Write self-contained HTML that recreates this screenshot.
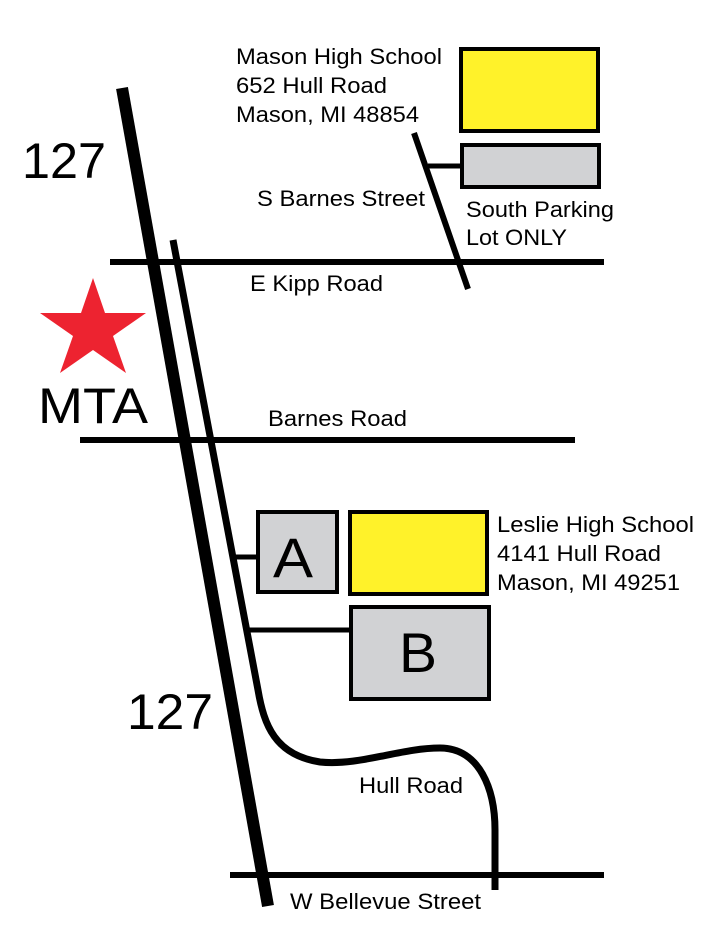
<!DOCTYPE html>
<html><head><meta charset="utf-8"><style>html,body{margin:0;padding:0;background:#fff}svg{display:block}text{font-family:"Liberation Sans",Arial,sans-serif;fill:#000}</style></head>
<body>
<svg width="724" height="940" viewBox="0 0 724 940" xmlns="http://www.w3.org/2000/svg">
<g stroke="#000" fill="none" stroke-linecap="butt">
<line x1="110" y1="262" x2="604" y2="262" stroke-width="6"/>
<line x1="80" y1="440" x2="575" y2="440" stroke-width="6"/>
<line x1="230" y1="875" x2="604" y2="875" stroke-width="6"/>
<line x1="122" y1="88" x2="268" y2="906" stroke-width="12"/>
<path d="M173,240 L258,690 C264,725 275,755 320,762 C360,766 400,748 440,748 C480,748 495,790 495,830 L495,890" stroke-width="7"/>
<line x1="414" y1="133" x2="468" y2="289" stroke-width="6"/>
<line x1="428" y1="166" x2="462" y2="166" stroke-width="5"/>
<line x1="236" y1="557" x2="258" y2="557" stroke-width="5"/>
<line x1="247" y1="630" x2="351" y2="630" stroke-width="5"/>
</g>
<g stroke="#000" stroke-width="4">
<rect x="461" y="49" width="137" height="82" fill="#fff22a"/>
<rect x="462" y="145" width="137" height="42" fill="#d1d2d4"/>
<rect x="258" y="512" width="79" height="80" fill="#d1d2d4"/>
<rect x="350" y="512" width="137" height="82" fill="#fff22a"/>
<rect x="351" y="607" width="138" height="92" fill="#d1d2d4"/>
</g>
<polygon points="93,278 105,313 146,313 113,336 126,373 93,350 60,373 73,336 40,313 81,313" fill="#ed2330"/>
<text x="22" y="178" font-size="50" textLength="84" lengthAdjust="spacingAndGlyphs">127</text>
<text x="127" y="729" font-size="50" textLength="86" lengthAdjust="spacingAndGlyphs">127</text>
<text x="38" y="423" font-size="50" textLength="110" lengthAdjust="spacingAndGlyphs">MTA</text>
<text x="273" y="577" font-size="56" textLength="40" lengthAdjust="spacingAndGlyphs">A</text>
<text x="399" y="672" font-size="56" textLength="38" lengthAdjust="spacingAndGlyphs">B</text>
<g font-size="22" lengthAdjust="spacingAndGlyphs">
<text x="236" y="64" textLength="206" lengthAdjust="spacingAndGlyphs">Mason High School</text>
<text x="236" y="93" textLength="151" lengthAdjust="spacingAndGlyphs">652 Hull Road</text>
<text x="236" y="122" textLength="183" lengthAdjust="spacingAndGlyphs">Mason, MI 48854</text>
<text x="257" y="206" textLength="168" lengthAdjust="spacingAndGlyphs">S Barnes Street</text>
<text x="466" y="217" textLength="148" lengthAdjust="spacingAndGlyphs">South Parking</text>
<text x="466" y="245" textLength="101" lengthAdjust="spacingAndGlyphs">Lot ONLY</text>
<text x="250" y="291" textLength="133" lengthAdjust="spacingAndGlyphs">E Kipp Road</text>
<text x="268" y="426" textLength="139" lengthAdjust="spacingAndGlyphs">Barnes Road</text>
<text x="497" y="532" textLength="197" lengthAdjust="spacingAndGlyphs">Leslie High School</text>
<text x="497" y="561" textLength="164" lengthAdjust="spacingAndGlyphs">4141 Hull Road</text>
<text x="497" y="590" textLength="183" lengthAdjust="spacingAndGlyphs">Mason, MI 49251</text>
<text x="359" y="793" textLength="104" lengthAdjust="spacingAndGlyphs">Hull Road</text>
<text x="290" y="909" textLength="191" lengthAdjust="spacingAndGlyphs">W Bellevue Street</text>
</g>
</svg>
</body></html>
